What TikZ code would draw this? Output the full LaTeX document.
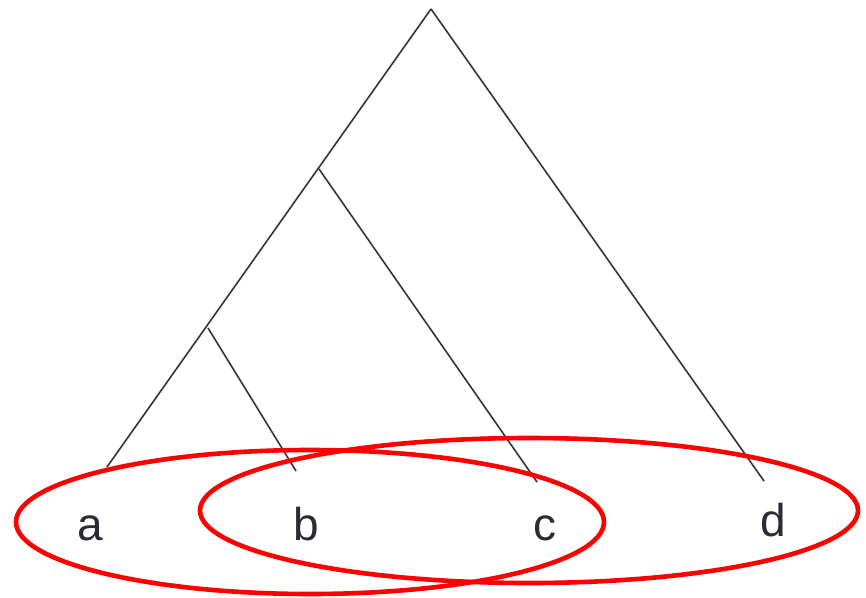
\documentclass[tikz,border=0pt]{standalone}
\usepackage{fontspec}
\setmainfont{Liberation Sans}
\definecolor{ink}{HTML}{2B2B35}
\definecolor{setred}{HTML}{FF0000}
\tikzset{
  branch/.style={draw=ink, line width=1.4pt},
  shade/.style={draw=black!8, line width=3pt, line cap=round},
  setring/.style={draw=setred, line width=4.6pt},
  leaflabel/.style={text=ink, font=\fontsize{46}{50}\selectfont, inner sep=0pt, anchor=base}
}
\begin{document}
\begin{tikzpicture}[x=1pt,y=-1pt]
\useasboundingbox (0,0) rectangle (866,597);
\coordinate (root) at (431,9);
\coordinate (n1) at (319,169);
\coordinate (n2) at (208,328);
\coordinate (la) at (107,467);
\coordinate (lb) at (296,471);
\coordinate (lc) at (537,482);
\coordinate (ld) at (764,481);
% faint shadows
\begin{scope}[shift={(3,3)}]
\draw[shade] (root) -- (la);
\draw[shade] (root) -- (ld);
\draw[shade] (n1) -- (lc);
\draw[shade] (n2) -- (lb);
\end{scope}
% tree
\draw[branch] (root) -- (la);
\draw[branch] (root) -- (ld);
\draw[branch] (n1) -- (lc);
\draw[branch] (n2) -- (lb);
% labels
\node[leaflabel] (ta) at (90,540) {a};
\node[leaflabel] (tb) at (306,540) {b};
\node[leaflabel] (tc) at (545,540) {c};
\node[leaflabel] (td) at (773,536) {d};
% sets
\draw[setring] (310,522) ellipse [x radius=294, y radius=72];
\draw[setring] (529,510.5) ellipse [x radius=329, y radius=72.5];
\end{tikzpicture}
\end{document}
